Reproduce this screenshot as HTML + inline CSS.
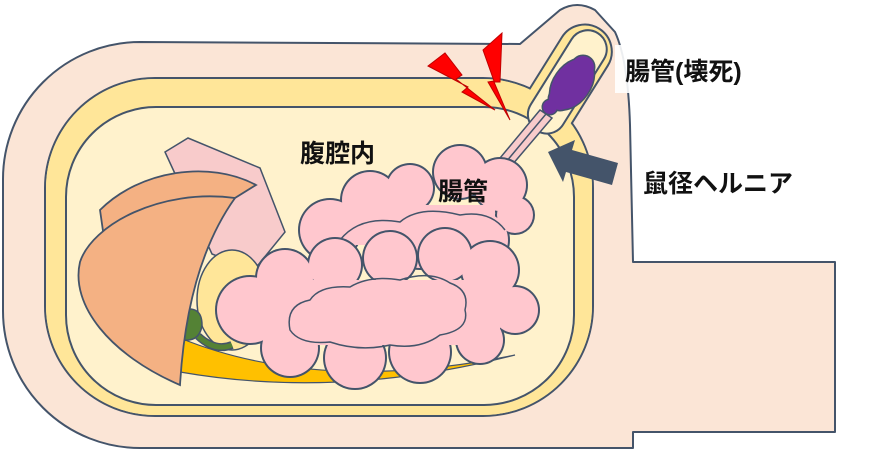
<!DOCTYPE html>
<html><head><meta charset="utf-8"><style>
html,body{margin:0;padding:0;background:#fff;width:885px;height:471px;overflow:hidden}
svg{display:block}
text{font-family:"Liberation Sans","Noto Sans CJK JP",sans-serif;fill:#111;font-weight:bold}
</style></head><body>
<svg width="885" height="471" viewBox="0 0 885 471" xmlns="http://www.w3.org/2000/svg">
<g stroke="#44546a" stroke-width="2" stroke-linejoin="round">
<path d="M140,42 L520,44 L560,10 Q577,0 595,10 L615,32 Q628,60 630,125 L633,262 L835,262 L835,432 L633,432 L633,448 L140,448 A137,137 0 0 1 3,311 L3,179 A137,137 0 0 1 140,42 Z" fill="#fbe5d6"/>
<rect x="45" y="78" width="548" height="338" rx="110" fill="#ffe699"/>
<g transform="translate(562,88) rotate(-58)">
<rect x="-80" y="-27" width="150" height="54" rx="27" fill="#ffe699"/>
</g>
<rect x="46" y="79" width="546" height="336" rx="109" fill="#ffe699" stroke="none"/>
<rect x="66" y="107" width="508" height="298" rx="90" fill="#fff2cc"/>
<g transform="translate(566,84) rotate(-58)">
<rect x="-55" y="-19" width="115" height="38" rx="19" fill="#fff2cc"/>
</g>
</g>
<g stroke="#44546a" stroke-width="1.5">
<polygon points="540,110 552,118 512,165 500,158" fill="#f8cbcb"/>
<line x1="546" y1="114" x2="506" y2="162"/>
</g>
<g fill="#7030a0" stroke="#44546a" stroke-width="3">
<ellipse cx="572" cy="84" rx="18" ry="28" transform="rotate(35 572 84)"/>
<circle cx="583" cy="67" r="11"/><circle cx="560" cy="99" r="11"/><circle cx="550" cy="107" r="7"/>
</g>
<g fill="#7030a0"><ellipse cx="572" cy="84" rx="18" ry="28" transform="rotate(35 572 84)"/><circle cx="583" cy="67" r="11"/><circle cx="560" cy="99" r="11"/><circle cx="550" cy="107" r="7"/></g>
<g fill="#ff0000" stroke="#c00000" stroke-width="1">
<polygon points="428,66 445,53 462,75 456,79 495,110 462,92 468,87"/>
<polygon points="483,50 502,33 500,82 494,82 510,120 488,82 494,81"/>
</g>
<polygon points="548,152 575,140 572,150 618,163 612,185 566,172 563,182" fill="#44546a"/>
<polygon points="165,152 188,138 260,168 285,232 254,270 212,254" fill="#f8cbcb" stroke="#44546a" stroke-width="1.5"/>
<ellipse cx="232" cy="300" rx="35" ry="50" fill="#ffe699" stroke="#44546a" stroke-width="1.5"/>
<path d="M180,338 Q320,395 515,355 Q340,400 180,372 Z" fill="#ffc000" stroke="#44546a" stroke-width="1.2"/>
<path d="M198,336 Q215,352 232,345" fill="none" stroke="#44546a" stroke-width="8"/>
<path d="M198,336 Q215,352 232,345" fill="none" stroke="#548235" stroke-width="5"/>
<path d="M182,310 Q202,305 202,325 Q200,342 182,340 Z" fill="#548235" stroke="#44546a" stroke-width="1.5"/>
<g fill="#f4b183" stroke="#44546a" stroke-width="1.8">
<path d="M100,210 C140,170 210,160 256,185 L235,198 C205,230 190,280 185,330 L110,280 Z"/>
<path d="M180,385 C110,355 70,305 80,262 C92,225 160,188 235,198 C205,240 185,300 180,385 Z"/>
</g>
<g fill="#44546a">
<circle cx="330" cy="230" r="32"/><circle cx="370" cy="200" r="30"/><circle cx="410" cy="188" r="25"/>
<circle cx="460" cy="172" r="28"/><circle cx="500" cy="185" r="28"/><circle cx="515" cy="215" r="20"/>
<circle cx="480" cy="240" r="30"/><circle cx="420" cy="240" r="30"/>
</g>
<g fill="#ffc7ce">
<circle cx="330" cy="230" r="30"/><circle cx="370" cy="200" r="28"/><circle cx="410" cy="188" r="23"/>
<circle cx="460" cy="172" r="26"/><circle cx="500" cy="185" r="26"/><circle cx="515" cy="215" r="18"/>
<circle cx="480" cy="240" r="28"/><circle cx="420" cy="240" r="28"/><rect x="350" y="205" width="145" height="40"/>
</g>
<path d="M340,240 Q360,215 400,222 Q420,205 460,215 Q490,210 505,230" fill="none" stroke="#44546a" stroke-width="1.5"/>
<g fill="#44546a">
<circle cx="250" cy="310" r="35"/><circle cx="285" cy="278" r="30"/><circle cx="335" cy="265" r="28"/>
<circle cx="390" cy="258" r="28"/><circle cx="445" cy="255" r="28"/><circle cx="490" cy="270" r="30"/>
<circle cx="515" cy="310" r="25"/><circle cx="480" cy="340" r="25"/><circle cx="420" cy="352" r="32"/>
<circle cx="355" cy="358" r="32"/><circle cx="290" cy="348" r="30"/>
</g>
<g fill="#ffc7ce">
<circle cx="250" cy="310" r="33"/><circle cx="285" cy="278" r="28"/><circle cx="335" cy="265" r="26"/>
<circle cx="390" cy="258" r="26"/><circle cx="445" cy="255" r="26"/><circle cx="490" cy="270" r="28"/>
<circle cx="515" cy="310" r="23"/><circle cx="480" cy="340" r="23"/><circle cx="420" cy="352" r="30"/>
<circle cx="355" cy="358" r="30"/><circle cx="290" cy="348" r="28"/><rect x="270" y="280" width="230" height="65"/>
</g>
<path d="M290,330 Q285,305 310,300 Q320,285 350,287 Q370,275 400,280 Q430,270 450,283 Q470,290 465,310 Q470,330 440,335 Q420,350 390,345 Q360,352 330,342 Q300,345 290,330 Z" fill="none" stroke="#44546a" stroke-width="1.5"/>
<rect x="615" y="45" width="188" height="48" fill="#fff" opacity="0.9"/>
<text x="300" y="162" font-size="25">腹腔内</text>
<text x="438" y="200" font-size="25">腸管</text>
<text x="625" y="80" font-size="25">腸管(壊死)</text>
<text x="643" y="192" font-size="25">鼠径ヘルニア</text>
</svg>
</body></html>
